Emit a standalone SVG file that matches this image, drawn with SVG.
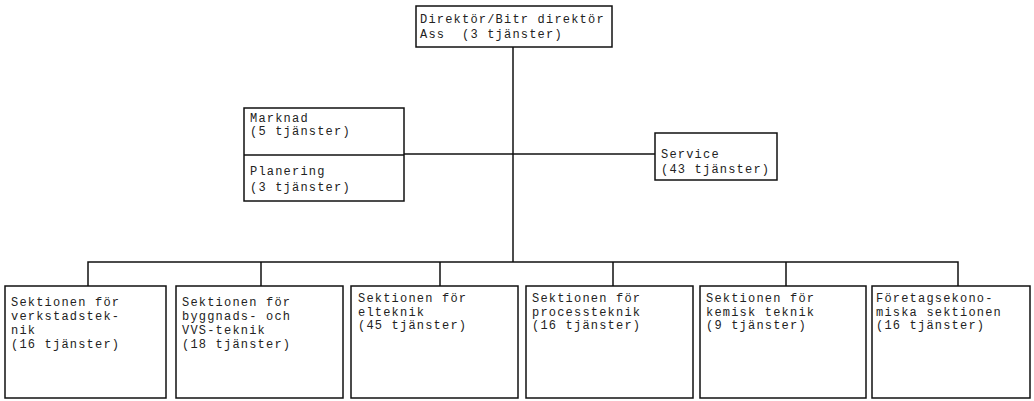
<svg xmlns="http://www.w3.org/2000/svg" width="1034" height="401" viewBox="0 0 1034 401">
<style>
.box{fill:#fff;stroke:#111;stroke-width:1.5}
.ln{fill:none;stroke:#111;stroke-width:1.5}
text{font-family:"Liberation Mono","DejaVu Sans Mono",monospace;font-size:12px;letter-spacing:1.2px;fill:#222}
</style>
<rect width="1034" height="401" fill="#fff"/>
<g id="connectors">
<path class="ln" d="M513 47V262"/>
<path class="ln" d="M404 154H655"/>
<path class="ln" d="M88 286V262H958V286"/>
<path class="ln" d="M261 262V286M440 262V286M613 262V286M786 262V286"/>
</g>
<g id="direktor">
<rect class="box" x="416" y="6" width="196" height="41"/>
<text x="420" y="23">Direktör/Bitr direktör</text>
<text x="420" y="38">Ass&#160; (3 tjänster)</text>
</g>
<g id="marknad">
<rect class="box" x="244" y="108" width="160" height="93"/>
<path class="ln" d="M244 155H404"/>
<text x="250" y="122">Marknad</text>
<text x="250" y="135">(5 tjänster)</text>
<text x="250" y="175">Planering</text>
<text x="250" y="191">(3 tjänster)</text>
</g>
<g id="service">
<rect class="box" x="655" y="133" width="122" height="47"/>
<text x="661" y="158">Service</text>
<text x="661" y="173">(43 tjänster)</text>
</g>
<g id="verkstad">
<rect class="box" x="5" y="286" width="161" height="112"/>
<text x="11" y="306">Sektionen för</text>
<text x="11" y="320">verkstadstek-</text>
<text x="11" y="334">nik</text>
<text x="11" y="348">(16 tjänster)</text>
</g>
<g id="bygg">
<rect class="box" x="176" y="286" width="167" height="112"/>
<text x="182" y="306">Sektionen för</text>
<text x="182" y="320">byggnads- och</text>
<text x="182" y="334">VVS-teknik</text>
<text x="182" y="348">(18 tjänster)</text>
</g>
<g id="el">
<rect class="box" x="351" y="286" width="167" height="112"/>
<text x="358" y="302">Sektionen för</text>
<text x="358" y="316">elteknik</text>
<text x="358" y="329">(45 tjänster)</text>
</g>
<g id="process">
<rect class="box" x="526" y="286" width="167" height="112"/>
<text x="532" y="302">Sektionen för</text>
<text x="532" y="316">processteknik</text>
<text x="532" y="329">(16 tjänster)</text>
</g>
<g id="kemisk">
<rect class="box" x="700" y="286" width="166" height="112"/>
<text x="706" y="302">Sektionen för</text>
<text x="706" y="316">kemisk teknik</text>
<text x="706" y="329">(9 tjänster)</text>
</g>
<g id="foretag">
<rect class="box" x="872" y="286" width="158" height="112"/>
<text x="876" y="302">Företagsekono-</text>
<text x="876" y="316">miska sektionen</text>
<text x="876" y="329">(16 tjänster)</text>
</g>
</svg>
